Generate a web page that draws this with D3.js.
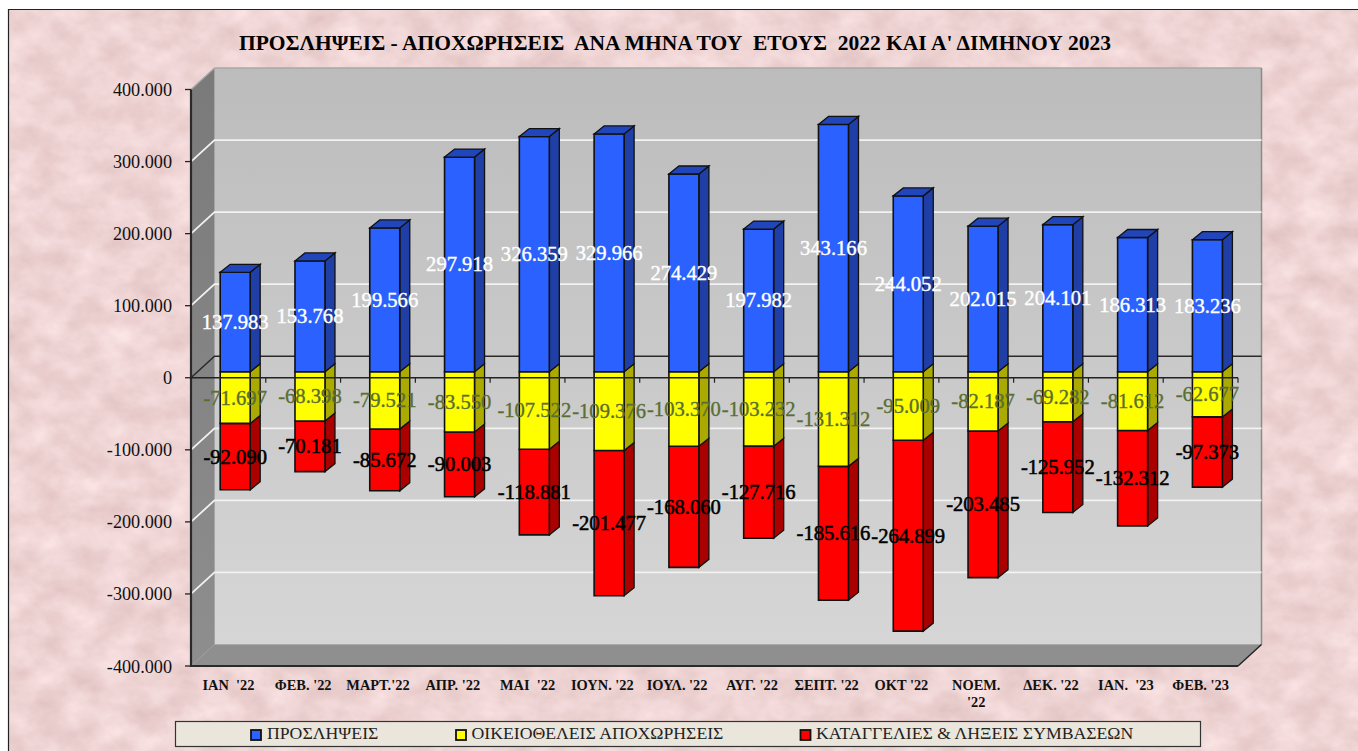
<!DOCTYPE html>
<html><head><meta charset="utf-8">
<script src="https://cdn.jsdelivr.net/npm/d3@7/dist/d3.min.js"></script>
<style>html,body{margin:0;padding:0;background:#fff;overflow:hidden}svg{display:block}text{font-family:"Liberation Serif",serif}</style>
</head><body><svg id="c" width="1358" height="751"></svg>
<script>
const chartTitle = "ΠΡΟΣΛΗΨΕΙΣ - ΑΠΟΧΩΡΗΣΕΙΣ  ΑΝΑ ΜΗΝΑ ΤΟΥ  ΕΤΟΥΣ  2022 ΚΑΙ Α' ΔΙΜΗΝΟΥ 2023";
const categories = ["ΙΑΝ  '22","ΦΕΒ. '22","ΜΑΡΤ.'22","ΑΠΡ. '22","ΜΑΙ  '22","ΙΟΥΝ. '22","ΙΟΥΛ. '22","ΑΥΓ. '22","ΣΕΠΤ. '22","ΟΚΤ '22","ΝΟΕΜ. '22","ΔΕΚ. '22","ΙΑΝ.  '23","ΦΕΒ. '23"];
const hires = [137983,153768,199566,297918,326359,329966,274429,197982,343166,244052,202015,204101,186313,183236];
const voluntary = [-71697,-68398,-79521,-83550,-107522,-109376,-103370,-103232,-131312,-95009,-82187,-69282,-81612,-62677];
const dismissals = [-92090,-70181,-85672,-90003,-118881,-201477,-168060,-127716,-185616,-264899,-203485,-125952,-132312,-97373];
const legendNames = ["ΠΡΟΣΛΗΨΕΙΣ","ΟΙΚΕΙΟΘΕΛΕΙΣ ΑΠΟΧΩΡΗΣΕΙΣ","ΚΑΤΑΓΓΕΛΙΕΣ & ΛΗΞΕΙΣ ΣΥΜΒΑΣΕΩΝ"];
const yTicks = [-400000,-300000,-200000,-100000,0,100000,200000,300000,400000];

const svg = d3.select("#c");
const fmt = d3.formatLocale({decimal:",",thousands:".",grouping:[3],currency:["",""],minus:"-"}).format(",d");
const fmtTick = v => fmt(v);

// geometry
const L=191,R=1238,T=89.5,B=666, wx=23.5, wy=21.5;
const x = d3.scaleBand().domain(categories).range([L,R]);
const y = d3.scaleLinear().domain([-400000,400000]).range([B,T]);
const barW=30, ox=6.8, oy=6, dx=10, dy=8;

// defs
const defs = svg.append("defs");
const f = defs.append("filter").attr("id","paper").attr("x",0).attr("y",0).attr("width","100%").attr("height","100%").attr("color-interpolation-filters","sRGB");
f.append("feTurbulence").attr("type","fractalNoise").attr("baseFrequency","0.03 0.04").attr("numOctaves",4).attr("seed",7);
f.append("feColorMatrix").attr("type","matrix").attr("values","0.13 0 0 0 0.87  0.17 0 0 0 0.745  0.17 0 0 0 0.745  0 0 0 0 1");
const gWall = defs.append("linearGradient").attr("id","wall").attr("x1",0).attr("y1",0).attr("x2",0).attr("y2",1);
gWall.append("stop").attr("offset",0).attr("stop-color","#bcbcbc");
gWall.append("stop").attr("offset",1).attr("stop-color","#d6d6d6");
const gSide = defs.append("linearGradient").attr("id","side").attr("x1",0).attr("y1",0).attr("x2",0).attr("y2",1);
gSide.append("stop").attr("offset",0).attr("stop-color","#7a7a7a");
gSide.append("stop").attr("offset",1).attr("stop-color","#8e8e8e");

// paper
svg.append("rect").attr("x",9).attr("y",10).attr("width",1349).attr("height",741).attr("filter","url(#paper)");
svg.append("path").attr("d","M8.5,751V9.5H1358").attr("fill","none").attr("stroke","#222").attr("stroke-width",1.2);

// title
svg.append("text").attr("x",675).attr("y",49.5).attr("text-anchor","middle").attr("font-weight","bold")
  .attr("font-size",21.5).style("white-space","pre").attr("fill","#000").text(chartTitle);

const poly=(pts,fill,stroke,sw)=>svg.append("polygon").attr("points",pts.map(p=>p.join(",")).join(" ")).attr("fill",fill).attr("stroke",stroke||"none").attr("stroke-width",sw||0);
const line=(x1,y1,x2,y2,c,w)=>svg.append("line").attr("x1",x1).attr("y1",y1).attr("x2",x2).attr("y2",y2).attr("stroke",c).attr("stroke-width",w);

// walls
poly([[L+wx,T-wy],[R+wx,T-wy],[R+wx,B-wy],[L+wx,B-wy]],"url(#wall)");
poly([[L,T],[L+wx,T-wy],[L+wx,B-wy],[L,B]],"url(#side)");
poly([[L,B],[L+wx,B-wy],[R+wx,B-wy],[R,B]],"#8f8f8f");
line(L+wx,T-wy,R+wx,T-wy,"#a8a8a8",1.5);
line(L+wx,T-wy,L+wx,B-wy,"#a5a5a5",1);
line(L+wx,B-wy,R+wx,B-wy,"#aaaaaa",1);
line(R+wx,T-wy,R+wx,B-wy,"#8a8a8a",1.5);
line(L,T,L+wx,T-wy,"#a8a8a8",1.2);

// gridlines
yTicks.filter(t=>t!==-400000 && t!==400000 && t!==0).forEach(t=>{
  svg.append("polyline").attr("points",`${L},${y(t)} ${L+wx},${y(t)-wy} ${R+wx},${y(t)-wy}`).attr("fill","none").attr("stroke","#f2f2f2").attr("stroke-width",1.8);
});
// zero plane (back part)
svg.append("polyline").attr("points",`${L},${y(0)} ${L+wx},${y(0)-wy} ${R+wx},${y(0)-wy}`).attr("fill","none").attr("stroke","#2a2a2a").attr("stroke-width",1.5);

// axes frame
line(L,T,L,B+1,"#2a2a2a",2.2);
line(L-1,B,R,B,"#2a2a2a",2.2);
line(R,B,R+wx,B-wy,"#222",1.4);
yTicks.forEach(t=>{
  line(L-6,y(t),L,y(t),"#222",1.3);
  svg.append("text").attr("x",L-19).attr("y",y(t)+6.5).attr("text-anchor","end").attr("font-size",18.2).attr("fill","#111").text(fmtTick(t));
});

// category labels
categories.forEach(c=>{
  const cx=x(c)+x.bandwidth()/2;
  const parts=c==="ΝΟΕΜ. '22"?["ΝΟΕΜ.","'22"]:[c];
  parts.forEach((p,i)=>svg.append("text").attr("x",cx).attr("y",690+i*16.5).attr("text-anchor","middle").attr("font-weight","bold")
    .attr("font-size",14.4).style("white-space","pre").attr("fill","#111").text(p));
});

// 3D bars
const series=[
 {vals:hires,front:"#2b62ff",side:"#1f3fa6",top:"#2146bc"},
 {vals:voluntary,front:"#ffff00",side:"#aaaa00",top:"#cccc00"},
 {vals:dismissals,front:"#ff0000",side:"#aa0000",top:"#cc0000"}
];
const barLeft=c=>x(c)+x.bandwidth()/2-barW/2+ox;
const ySh=v=>y(v)-oy;
categories.forEach((c,i)=>{
  const xl=barLeft(c), xr=xl+barW;
  const segs=[
    {s:series[2],a:voluntary[i],b:voluntary[i]+dismissals[i]},
    {s:series[1],a:0,b:voluntary[i]},
    {s:series[0],a:hires[i],b:0}
  ];
  segs.forEach(({s,a,b})=>{
    const ya=ySh(a), yb=ySh(b);
    poly([[xr,ya],[xr+dx,ya-dy],[xr+dx,yb-dy],[xr,yb]],s.side,"#111",1.3);
    poly([[xl,ya],[xr,ya],[xr,yb],[xl,yb]],s.front,"#111",1.6);
  });
  const yt=ySh(hires[i]);
  poly([[xl,yt],[xl+dx,yt-dy],[xr+dx,yt-dy],[xr,yt]],series[0].top,"#111",1.3);
});

// front zero axis, drawn across the bars, with ticks at the band edges
line(L,y(0),R,y(0),"#222",1.6);
categories.forEach((c,i)=>{
  const xx = x(c)+x.bandwidth();
  line(xx,y(0),xx,y(0)+5,"#222",1.2);
});

// data labels
categories.forEach((c,i)=>{
  const cx=barLeft(c)+barW/2;
  const lbl=(yy,v,col,sw)=>svg.append("text").attr("x",cx).attr("y",yy+7).attr("text-anchor","middle").attr("font-size",20.6)
     .attr("fill",col).attr("stroke",col).attr("stroke-width",sw).text(fmt(v));
  lbl(ySh(hires[i]/2),hires[i],"#ffffff",0.4);
  lbl(ySh(voluntary[i]/2),voluntary[i],"#5a6e32",0.35);
  lbl(ySh(voluntary[i]+dismissals[i]/2),dismissals[i],"#000000",0.55);
});

// legend
svg.append("rect").attr("x",175.5).attr("y",721.5).attr("width",1025).attr("height",25).attr("fill","#ebe6dc").attr("stroke","#333").attr("stroke-width",1.2);
const legendMarks=[251,456,800.5], legendText=[267,471.5,816], legendCols=[series[0].front,series[1].front,series[2].front];
legendNames.forEach((n,i)=>{
  svg.append("rect").attr("x",legendMarks[i]).attr("y",730).attr("width",10).attr("height",10).attr("fill",legendCols[i]).attr("stroke","#111").attr("stroke-width",1.8);
  svg.append("text").attr("x",legendText[i]).attr("y",739).attr("font-size",17.7).attr("fill","#222").text(n);
});
</script></body></html>
